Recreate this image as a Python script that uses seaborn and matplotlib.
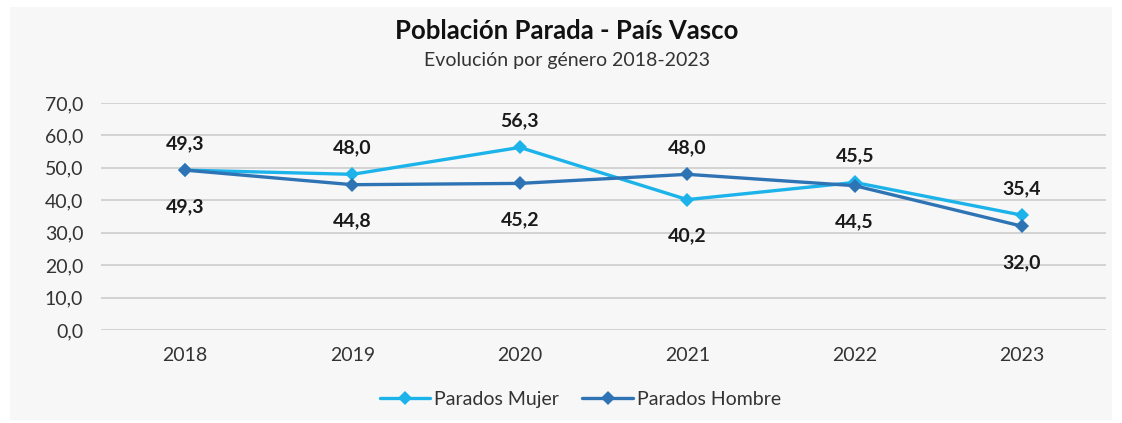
import matplotlib
matplotlib.use('Agg')
import matplotlib.pyplot as plt
from matplotlib.patches import Rectangle
import pandas as pd
import seaborn as sns

years = ['2018', '2019', '2020', '2021', '2022', '2023']
mujer = [49.3, 48.0, 56.3, 40.2, 45.5, 35.4]
hombre = [49.3, 44.8, 45.2, 48.0, 44.5, 32.0]
series = ['Parados Mujer', 'Parados Hombre']
colors = ['#1cb3ea', '#2e74b5']

df = pd.DataFrame({
    'year': years * 2,
    'value': mujer + hombre,
    'serie': [series[0]] * len(years) + [series[1]] * len(years),
})

sns.set_theme(style='white')
plt.rcParams['font.family'] = ['Lato', 'DejaVu Sans']

fig = plt.figure(figsize=(11.22, 4.23), dpi=100, facecolor='white')
fig.patches.append(Rectangle((0.009, 0.006), 0.982, 0.977, transform=fig.transFigure,
                             facecolor='#f7f7f7', edgecolor='none', zorder=-10))
ax = fig.add_axes([0.0903, 0.22, 0.8952, 0.5365])
ax.set_facecolor('none')

sns.lineplot(data=df, x='year', y='value', hue='serie', palette=colors,
             marker='D', markersize=7, markeredgewidth=0, linewidth=2.4,
             sort=False, ax=ax)

ax.set_ylim(0, 70)
ax.set_xlim(-0.5, 5.5)
ax.set_yticks(range(0, 71, 10))
ax.set_yticklabels([f'{v:.1f}'.replace('.', ',') for v in range(0, 71, 10)])
ax.yaxis.grid(True, color='#d0d0d0', linewidth=1.3)
ax.set_axisbelow(True)
for s in ax.spines.values():
    s.set_visible(False)
ax.tick_params(axis='both', length=0, labelsize=14, colors='#333333', pad=12)
ax.tick_params(axis='y', pad=13)
ax.set_xlabel('')
ax.set_ylabel('')

# data labels: higher value above, lower value below
for i in range(len(years)):
    m, h = mujer[i], hombre[i]
    hi, lo = (m, h) if m >= h else (h, m)
    ax.annotate(f'{hi:.1f}'.replace('.', ','), (i, hi), xytext=(0, 13),
                textcoords='offset points', ha='center', va='bottom',
                fontsize=14, fontweight='bold', color='#1a1a1a')
    ax.annotate(f'{lo:.1f}'.replace('.', ','), (i, lo), xytext=(0, -20),
                textcoords='offset points', ha='center', va='top',
                fontsize=14, fontweight='bold', color='#1a1a1a')

leg = ax.legend(loc='upper center', bbox_to_anchor=(0.477, -0.19), ncol=2,
                frameon=False, fontsize=14, handlelength=2.6, columnspacing=1.2,
                handletextpad=0.2)
for t in leg.get_texts():
    t.set_color('#333333')

fig.text(0.505, 0.927, 'Población Parada - País Vasco', ha='center', va='center',
         fontsize=18.5, fontweight='bold', color='#111111')
fig.text(0.505, 0.857, 'Evolución por género 2018-2023', ha='center', va='center',
         fontsize=14, color='#333333')

fig.savefig('out.png', dpi=100, facecolor=fig.get_facecolor())
